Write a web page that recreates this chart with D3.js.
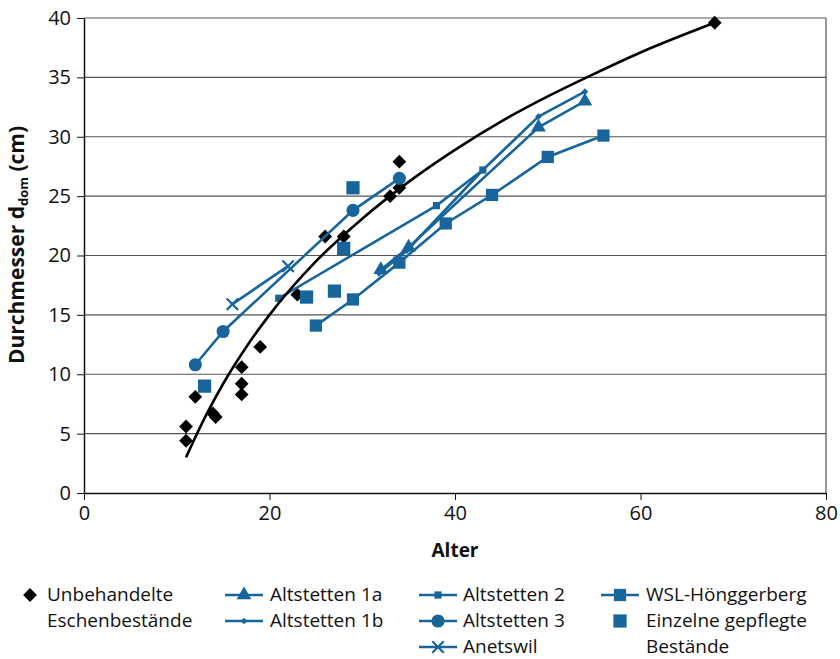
<!DOCTYPE html>
<html>
<head>
<meta charset="utf-8">
<script src="https://cdn.jsdelivr.net/npm/d3@7"></script>
<style>
    body { margin: 0; background: #fff; }
    text { font-family: "Open Sans", "Noto Sans", sans-serif; fill: #111; }
</style>
</head>
<body>
<svg id="chart" width="840" height="659" viewBox="0 0 840 659"></svg>
<script>
// values: [Alter, Durchmesser]
const unbehandelte = [
    [11, 5.6], [11, 4.4], [12, 8.1], [13.9, 6.7], [14.2, 6.4], [17, 10.6], [17, 9.2], [17, 8.3],
    [19, 12.3], [23, 16.7], [26, 21.6], [28, 21.6], [33, 25.0], [34, 25.7], [34, 27.9], [68, 39.6]
];
// trend line through the black diamonds
const trend = [
    [11, 3.0], [13, 6.3], [15, 9.2], [17.5, 12.3], [20, 15.0], [25, 19.5], [30, 23.1], [35, 26.2],
    [40, 28.9], [45, 31.3], [50, 33.4], [55, 35.3], [60, 37.1], [68, 39.6]
];
const altstetten1a = [[32, 18.8], [35, 20.7], [49, 30.8], [54, 33.0]];
const altstetten1b = [[31.8, 18.5], [34.8, 20.4], [43, 27.2], [49, 31.7], [54, 33.8]];
const altstetten2 = [[21, 16.4], [38, 24.2], [43, 27.2]];
const altstetten3 = [[12, 10.8], [15, 13.6], [29, 23.8], [34, 26.5]];
const anetswil = [[16, 15.9], [22, 19.1]];
const wslHoenggerberg = [[25, 14.1], [29, 16.3], [34, 19.4], [39, 22.7], [44, 25.1], [50, 28.3], [56, 30.1]];
const einzelne = [[13, 9.0], [24, 16.5], [27, 17.0], [28, 20.6], [29, 25.7]];

const xTicks = [0, 20, 40, 60, 80];
const yTicks = [0, 5, 10, 15, 20, 25, 30, 35, 40];

const blue = "#17659b";

let svg = d3.select("#chart");
let margin = {left: 84, right: 14, top: 18, bottom: 166};
let w = 840 - margin.left - margin.right;
let h = 659 - margin.top - margin.bottom;

let x = d3.scaleLinear().domain([0, 80]).range([margin.left, margin.left + w]);
let y = d3.scaleLinear().domain([0, 40]).range([margin.top + h, margin.top]);

// custom marker shapes
let diamond = {
    draw(ctx, size) {
        let r = Math.sqrt(size) / 2;
        ctx.moveTo(0, -r); ctx.lineTo(r, 0); ctx.lineTo(0, r); ctx.lineTo(-r, 0); ctx.closePath();
    }
};
let cross = {
    draw(ctx, size) {
        let r = Math.sqrt(size) / 2;
        ctx.moveTo(-r, -r); ctx.lineTo(r, r); ctx.moveTo(r, -r); ctx.lineTo(-r, r);
    }
};

// gridlines
svg.append("g")
    .selectAll("line")
    .data(yTicks.filter(d => d > 0))
    .join("line")
    .attr("x1", x(0)).attr("x2", x(80))
    .attr("y1", d => y(d)).attr("y2", d => y(d))
    .style("stroke", "#555")
    .style("stroke-width", 1.2);

// right border
svg.append("line")
    .attr("x1", x(80)).attr("x2", x(80))
    .attr("y1", y(40)).attr("y2", y(0))
    .style("stroke", "#555").style("stroke-width", 1.2);

// axes
let xAxis = svg.append("g")
    .attr("transform", "translate(0," + y(0) + ")")
    .call(d3.axisBottom(x).tickValues(xTicks).tickSize(7).tickSizeOuter(0).tickPadding(6));
let yAxis = svg.append("g")
    .attr("transform", "translate(" + x(0) + ",0)")
    .call(d3.axisLeft(y).tickValues(yTicks).tickSize(7).tickSizeOuter(0).tickPadding(6));
[xAxis, yAxis].forEach(function(a) {
    a.select(".domain").style("stroke", "#111").style("stroke-width", 1.5);
    a.selectAll(".tick line").style("stroke", "#111");
    a.selectAll(".tick text").style("font-size", "20px").style("fill", "#111")
        .style("font-family", "'Open Sans', sans-serif");
});

// axis titles
svg.append("text")
    .attr("x", x(40)).attr("y", 557)
    .attr("text-anchor", "middle")
    .style("font-size", "19px").style("font-weight", "bold")
    .text("Alter");

let ytitle = svg.append("text")
    .attr("transform", "translate(24," + 245 + ") rotate(-90)")
    .attr("text-anchor", "middle")
    .style("font-size", "21px").style("font-weight", "bold");
ytitle.append("tspan").text("Durchmesser d");
ytitle.append("tspan").attr("dy", 4).style("font-size", "13px").text("dom");
ytitle.append("tspan").attr("dy", -4).text(" (cm)");

let line = d3.line().x(d => x(d[0])).y(d => y(d[1]));

let series = [
    {name: "Altstetten 1a", data: altstetten1a, type: d3.symbolTriangle, size: 95, line: true},
    {name: "Altstetten 1b", data: altstetten1b, type: diamond, size: 45, line: true},
    {name: "Altstetten 2", data: altstetten2, type: d3.symbolSquare, size: 52, line: true},
    {name: "Altstetten 3", data: altstetten3, type: d3.symbolCircle, size: 135, line: true},
    {name: "Anetswil", data: anetswil, type: cross, size: 130, line: true, stroke: true},
    {name: "WSL-Hönggerberg", data: wslHoenggerberg, type: d3.symbolSquare, size: 150, line: true},
    {name: "Einzelne gepflegte Bestände", data: einzelne, type: d3.symbolSquare, size: 175, line: false}
];

// black diamonds
svg.append("g")
    .selectAll("path")
    .data(unbehandelte)
    .join("path")
    .attr("transform", d => "translate(" + x(d[0]) + "," + y(d[1]) + ")")
    .attr("d", d3.symbol().type(diamond).size(190))
    .style("fill", "#000");

// blue series
series.forEach(function(s) {
    let g = svg.append("g");
    if (s.line) {
        g.append("path")
            .datum(s.data)
            .attr("d", line)
            .style("fill", "none")
            .style("stroke", blue)
            .style("stroke-width", 2.6);
    }
    g.selectAll("path.mark")
        .data(s.data)
        .join("path")
        .attr("class", "mark")
        .attr("transform", d => "translate(" + x(d[0]) + "," + y(d[1]) + ")")
        .attr("d", d3.symbol().type(s.type).size(s.size))
        .style("fill", s.stroke ? "none" : blue)
        .style("stroke", blue)
        .style("stroke-width", s.stroke ? 2.2 : 0);
});

// trend line
svg.append("path")
    .datum(trend)
    .attr("d", d3.line().x(d => x(d[0])).y(d => y(d[1])).curve(d3.curveMonotoneX))
    .style("fill", "none")
    .style("stroke", "#000")
    .style("stroke-width", 2.6);

// legend
let legend = svg.append("g").style("font-size", "19px");
let rowY = [595, 621, 647];
let legendItems = [
    {col: 0, row: 0, marker: diamond, size: 190, fill: "#000", line: false, text: ["Unbehandelte", "Eschenbestände"]},
    {col: 1, row: 0, s: series[0], text: ["Altstetten 1a"]},
    {col: 1, row: 1, s: series[1], text: ["Altstetten 1b"]},
    {col: 2, row: 0, s: series[2], text: ["Altstetten 2"]},
    {col: 2, row: 1, s: series[3], text: ["Altstetten 3"]},
    {col: 2, row: 2, s: series[4], text: ["Anetswil"]},
    {col: 3, row: 0, s: series[5], text: ["WSL-Hönggerberg"]},
    {col: 3, row: 1, s: series[6], text: ["Einzelne gepflegte", "Bestände"]}
];
let colMarker = [30, 244, 438, 620];
let colText = [47, 270, 463, 646];

legendItems.forEach(function(it) {
    let cx = colMarker[it.col];
    let cy = rowY[it.row];
    let s = it.s;
    if (s && s.line) {
        legend.append("line")
            .attr("x1", cx - 19).attr("x2", cx + 19)
            .attr("y1", cy).attr("y2", cy)
            .style("stroke", blue).style("stroke-width", 2.6);
    }
    legend.append("path")
        .attr("transform", "translate(" + cx + "," + cy + ")")
        .attr("d", d3.symbol().type(s ? s.type : it.marker).size(s ? s.size : it.size))
        .style("fill", s ? (s.stroke ? "none" : blue) : it.fill)
        .style("stroke", blue)
        .style("stroke-width", s && s.stroke ? 2.2 : 0);
    it.text.forEach(function(t, i) {
        legend.append("text")
            .attr("x", colText[it.col])
            .attr("y", rowY[it.row + i] + 6.3)
            .text(t);
    });
});
</script>
</body>
</html>
